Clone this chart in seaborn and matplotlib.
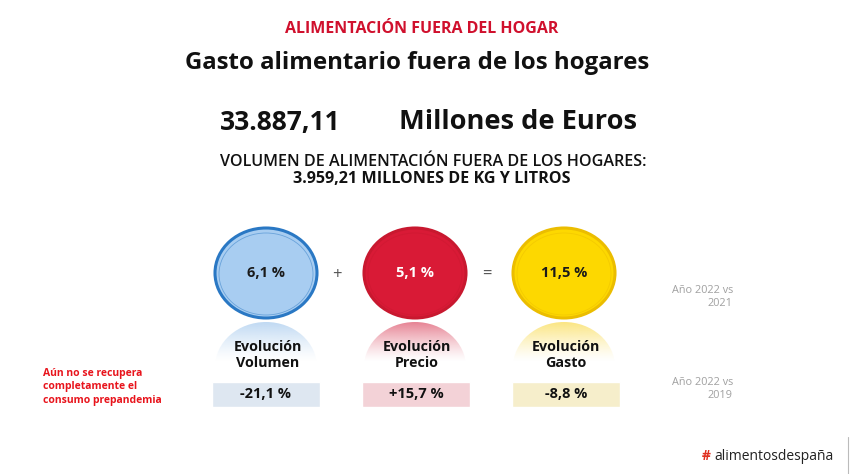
import numpy as np
import pandas as pd
import matplotlib.pyplot as plt
import seaborn as sns
from matplotlib.patches import Ellipse
from matplotlib.colors import to_rgb

# datos
nombres = ["Volumen", "Precio", "Gasto"]
evol_2021 = [6.1, 5.1, 11.5]
evol_2019 = [-21.1, 15.7, -8.8]
gasto_total = "33.887,11"
volumen_total = "3.959,21"
operadores = ["+", "="]

col_circulo = ["#a8cdf1", "#d91a36", "#fdd800"]
col_borde = ["#2a78c4", "#c8182f", "#ebbd00"]
col_texto = ["#1a1a1a", "#ffffff", "#1a1a1a"]
col_reflejo = ["#bcd7f2", "#e57c8d", "#fbe47a"]
col_caja = ["#dbe7f4", "#f8ccd4", "#fdf2c4"]


def fmt(v, signo=False):
    s = f"{v:+.1f}" if signo else f"{v:.1f}"
    return s.replace(".", ",") + " %"


sns.set_theme(style="white")
plt.rcParams['font.family'] = ['Open Sans', 'DejaVu Sans']

fig = plt.figure(figsize=(8.5, 4.74), dpi=100)
ax = fig.add_axes([0, 0, 1, 1])
ax.set_xlim(0, 850)
ax.set_ylim(474, 0)
ax.axis('off')

rojo = "#d0102d"
ax.text(422, 29, "ALIMENTACIÓN FUERA DEL HOGAR", color=rojo, fontsize=11.5,
        fontweight='bold', ha='center', va='center')
ax.text(417, 63, "Gasto alimentario fuera de los hogares", color="#111111",
        fontsize=17.3, fontweight='bold', ha='center', va='center')
ax.text(280, 122, gasto_total, color="#111111", fontsize=19, fontweight='bold',
        ha='center', va='center')
ax.text(518, 122, "Millones de Euros", color="#111111", fontsize=19.6,
        fontweight='bold', ha='center', va='center')
ax.text(433, 162, "VOLUMEN DE ALIMENTACIÓN FUERA DE LOS HOGARES:", color="#111111",
        fontsize=11.6, fontweight='semibold', ha='center', va='center')
ax.text(432, 179, volumen_total + " MILLONES DE KG Y LITROS", color="#111111",
        fontsize=11.6, fontweight='bold', ha='center', va='center')

# circulos
ancho, alto = 102, 90
cy = 273
for i in range(3):
    cx = 266 + 149 * i
    # reflejo con degradado
    clip = Ellipse((cx, 322 + alto / 2), ancho, alto, facecolor='none', edgecolor='none')
    ax.add_patch(clip)
    n = 60
    grad = np.zeros((n, 1, 4))
    grad[:, 0, :3] = to_rgb(col_reflejo[i])
    grad[:, 0, 3] = np.linspace(0.95, 0.0, n) ** 1.3
    im = ax.imshow(grad, extent=(cx - ancho / 2, cx + ancho / 2, 362, 322),
                   aspect='auto', zorder=1, interpolation='bilinear')
    im.set_clip_path(clip)

    ax.add_patch(Ellipse((cx, cy), ancho, alto, facecolor=col_circulo[i],
                         edgecolor=col_borde[i], linewidth=2.2, zorder=2))
    ax.add_patch(Ellipse((cx, cy + 1), ancho - 8, alto - 8, facecolor='none',
                         edgecolor=col_borde[i], linewidth=0.6, alpha=0.5, zorder=3))
    ax.text(cx, cy, fmt(evol_2021[i]), color=col_texto[i], fontsize=10.5,
            fontweight='bold', ha='center', va='center', zorder=4)
    ax.text(cx + 2, 355, "Evolución\n" + nombres[i], color="#111111", fontsize=10.3,
            fontweight='bold', ha='center', va='center', linespacing=1.15, zorder=4)

for i, op in enumerate(operadores):
    ax.text(337 + 150 * i, 275, op, color="#555555", fontsize=12,
            ha='center', va='center')

ax.set_xlim(0, 850)
ax.set_ylim(474, 0)

ax.text(43, 387, "Aún no se recupera\ncompletamente el\nconsumo prepandemia",
        color="#e8141c", fontsize=7.5, fontweight='bold', ha='left', va='center',
        linespacing=1.35)
for y, anio in [(297, "2021"), (389, "2019")]:
    ax.text(733, y, "Año 2022 vs\n" + anio, color="#a0a0a0", fontsize=7.8,
            ha='right', va='center', linespacing=1.35)

ax.text(706, 456, "#", color="#e03020", fontsize=10, fontweight='bold',
        ha='center', va='center')
ax.text(714, 456, "alimentosdespaña", color="#222222", fontsize=10,
        ha='left', va='center')
ax.plot([848, 848], [437, 474], color="#bbbbbb", linewidth=0.8)

# cajas comparacion 2019
axb = fig.add_axes([191 / 850, (474 - 407) / 474, 450 / 850, 25 / 474])
df = pd.DataFrame({"nombre": nombres, "alto": [1, 1, 1]})
sns.barplot(data=df, x="nombre", y="alto", hue="nombre", palette=col_caja,
            width=0.72, legend=False, ax=axb)
for i, v in enumerate(evol_2019):
    axb.text(i, 0.5, fmt(v, signo=True), color="#111111", fontsize=10.5,
             fontweight='bold', ha='center', va='center')
axb.set_xlim(-0.5, 2.5)
axb.set_ylim(0, 1)
axb.axis('off')

fig.savefig("out.png", dpi=100)
